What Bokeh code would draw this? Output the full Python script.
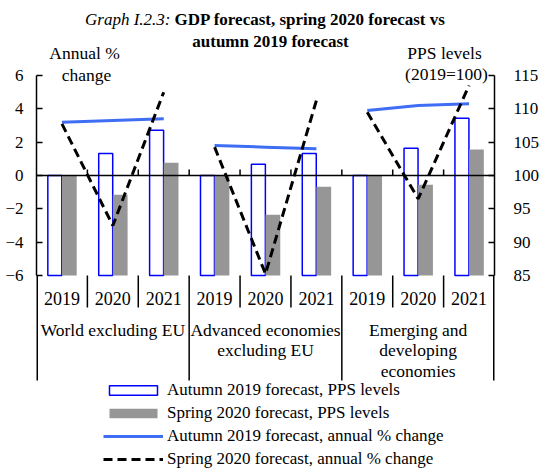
from bokeh.plotting import figure
from bokeh.models import (Range1d, LinearAxis, FixedTicker, Legend, LegendItem,
                          ColumnDataSource)
from bokeh.transform import dodge
from bokeh.core.properties import value
from bokeh.embed import file_html
from bokeh.resources import INLINE

# ---------------- data ----------------
groups = ["World excluding EU", "Advanced economies excluding EU",
          "Emerging and developing economies"]
group_label_lines = [["World excluding EU"],
                     ["Advanced economies", "excluding EU"],
                     ["Emerging and", "developing", "economies"]]
years = ["2019", "2020", "2021"]

autumn_pps = [100.0, 103.3, 106.8, 100.0, 101.7, 103.3, 100.0, 104.1, 108.6]
spring_pps = [100.0, 97.1, 101.9, 100.0, 94.1, 98.3, 100.0, 98.6, 103.9]
autumn_growth = [3.2, 3.3, 3.4, 1.8, 1.7, 1.6, 3.9, 4.2, 4.3]
spring_growth = [3.1, -3.0, 5.0, 1.7, -5.9, 4.5, 3.8, -1.4, 5.4]

left_ticks = [-6, -4, -2, 0, 2, 4, 6]
right_ticks = [85, 90, 95, 100, 105, 110, 115]

title_italic = "Graph I.2.3:"
title_bold_1 = "GDP forecast, spring 2020 forecast vs"
title_bold_2 = "autumn 2019 forecast"
left_axis_title = ["Annual %", "change"]
right_axis_title = ["PPS levels", "(2019=100)"]
legend_labels = ["Autumn 2019 forecast, PPS levels",
                 "Spring 2020 forecast, PPS levels",
                 "Autumn 2019 forecast, annual % change",
                 "Spring 2020 forecast, annual % change"]

# ---------------- layout helpers ----------------
FONT = "Liberation Serif"
W, H = 542, 468
BL, BR = 36, 48
n_cat = len(groups) * len(years)
frame_w = W - BL - BR
cat_px = frame_w / n_cat
L_MIN, L_MAX = left_ticks[0], left_ticks[-1]
R_MIN, R_MAX = right_ticks[0], right_ticks[-1]
TOP_PX, BOT_PX = 75, 275            # pixel y of left 6 / -6
px_per_unit = (BOT_PX - TOP_PX) / (L_MAX - L_MIN)


def yd(py):
    return L_MAX - (py - TOP_PX) / px_per_unit


def xd(px):
    return (px - BL) / cat_px


y0, y1 = yd(H), yd(0)
r_scale = (R_MAX - R_MIN) / (L_MAX - L_MIN)
r_mid = (R_MAX + R_MIN) / 2


def to_right(v):
    return r_mid + r_scale * v


p = figure(width=W, height=H, x_range=Range1d(0, n_cat), y_range=Range1d(y0, y1),
           x_axis_type=None, y_axis_type=None, toolbar_location=None,
           output_backend="svg", min_border_left=BL, min_border_right=BR,
           min_border_top=0, min_border_bottom=0, outline_line_color=None,
           background_fill_color="white", border_fill_color="white")
p.xgrid.visible = False
p.ygrid.visible = False
p.extra_y_ranges = {"pps": Range1d(to_right(y0), to_right(y1))}

axis_style = dict(axis_line_color="black", axis_line_width=1.5,
                  major_tick_line_color="black", major_tick_line_width=1.5,
                  major_tick_in=6, major_tick_out=0, minor_tick_line_color=None,
                  major_label_text_font=FONT, major_label_text_font_size="17px",
                  major_label_text_color="black")
left_axis = LinearAxis(ticker=FixedTicker(ticks=left_ticks), bounds=(L_MIN, L_MAX),
                       major_label_standoff=13, **axis_style)
right_axis = LinearAxis(y_range_name="pps", ticker=FixedTicker(ticks=right_ticks),
                        bounds=(R_MIN, R_MAX), major_label_standoff=19, **axis_style)
p.add_layout(left_axis, "left")
p.add_layout(right_axis, "right")

# ---------------- bars ----------------
cx = [i + 0.5 for i in range(n_cat)]
src = ColumnDataSource(dict(x=cx, autumn=autumn_pps, spring=spring_pps))
r_aut = p.vbar(x=dodge("x", -0.14, range=p.x_range), top="autumn", bottom=R_MIN,
               width=0.275, source=src, y_range_name="pps", fill_color="white",
               line_color="#0000FF", line_width=1.5)
r_spr = p.vbar(x=dodge("x", 0.145, range=p.x_range), top="spring", bottom=R_MIN,
               width=0.29, source=src, y_range_name="pps", fill_color="#969696",
               line_color=None)

# zero line with small upward ticks at category boundaries
p.segment(x0=[0], y0=[0], x1=[n_cat], y1=[0], line_color="black", line_width=1.5)
inner_b = list(range(1, n_cat))
p.segment(x0=inner_b, y0=[0] * len(inner_b), x1=inner_b,
          y1=[6 / px_per_unit] * len(inner_b), line_color="black", line_width=1.5)

# ---------------- lines ----------------
ng = len(years)
xs = [cx[g * ng:(g + 1) * ng] for g in range(len(groups))]
ys_a = [autumn_growth[g * ng:(g + 1) * ng] for g in range(len(groups))]
ys_s = [spring_growth[g * ng:(g + 1) * ng] for g in range(len(groups))]
r_la = p.multi_line(xs=xs, ys=ys_a, line_color="#3F6EF5", line_width=3)
r_ls = p.multi_line(xs=xs, ys=ys_s, line_color="black", line_width=3,
                    line_dash="9 5")

# ---------------- category table ----------------
yr_b = [b for b in range(n_cat + 1) if b % ng != 0]
grp_b = [b for b in range(n_cat + 1) if b % ng == 0]
p.segment(x0=yr_b, y0=[L_MIN] * len(yr_b), x1=yr_b, y1=[yd(307)] * len(yr_b),
          line_color="black", line_width=1.5)
p.segment(x0=grp_b, y0=[L_MIN] * len(grp_b), x1=grp_b, y1=[yd(380)] * len(grp_b),
          line_color="black", line_width=[3 if b in (0, n_cat) else 1.5 for b in grp_b])
p.text(x=cx, y=[yd(298)] * n_cat, text=years * len(groups),
       text_font=value(FONT), text_font_size="18px", text_align="center",
       text_baseline="middle", text_color="black")
gx, gy, gt = [], [], []
for g, lines in enumerate(group_label_lines):
    for k, t in enumerate(lines):
        gx.append(g * ng + ng / 2)
        gy.append(yd(329 + 20.5 * k))
        gt.append(t)
p.text(x=gx, y=gy, text=gt, text_font=value(FONT), text_font_size="17.5px",
       text_align="center", text_baseline="middle", text_color="black")

# ---------------- titles ----------------
p.text(x=[xd(170)], y=[yd(19)], text=[title_italic], text_font=value(FONT),
       text_font_size="17px", text_font_style="italic", text_align="right",
       text_baseline="middle", text_color="black")
p.text(x=[xd(174)], y=[yd(19)], text=[title_bold_1], text_font=value(FONT),
       text_font_size="17px", text_font_style="bold", text_align="left",
       text_baseline="middle", text_color="black")
p.text(x=[xd(270)], y=[yd(41)], text=[title_bold_2], text_font=value(FONT),
       text_font_size="17px", text_font_style="bold", text_align="center",
       text_baseline="middle", text_color="black")
p.text(x=[xd(84), xd(86)], y=[yd(52), yd(74)], text=left_axis_title,
       text_font=value(FONT), text_font_size="17.5px", text_align="center",
       text_baseline="middle", text_color="black")
p.text(x=[xd(444), xd(446)], y=[yd(52), yd(73)], text=right_axis_title,
       text_font=value(FONT), text_font_size="17.5px", text_align="center",
       text_baseline="middle", text_color="black")

# ---------------- legend ----------------
legend = Legend(items=[LegendItem(label=legend_labels[0], renderers=[r_aut]),
                       LegendItem(label=legend_labels[1], renderers=[r_spr]),
                       LegendItem(label=legend_labels[2], renderers=[r_la]),
                       LegendItem(label=legend_labels[3], renderers=[r_ls])],
                location=(67, -2), orientation="vertical", padding=0, margin=0,
                spacing=0, glyph_width=60, glyph_height=12, label_height=23,
                label_standoff=4, label_text_font=FONT, label_text_font_size="17px",
                label_text_color="black", border_line_color=None,
                background_fill_alpha=0)
p.add_layout(legend, "center")

open("out.html", "w").write(file_html(p, INLINE))
